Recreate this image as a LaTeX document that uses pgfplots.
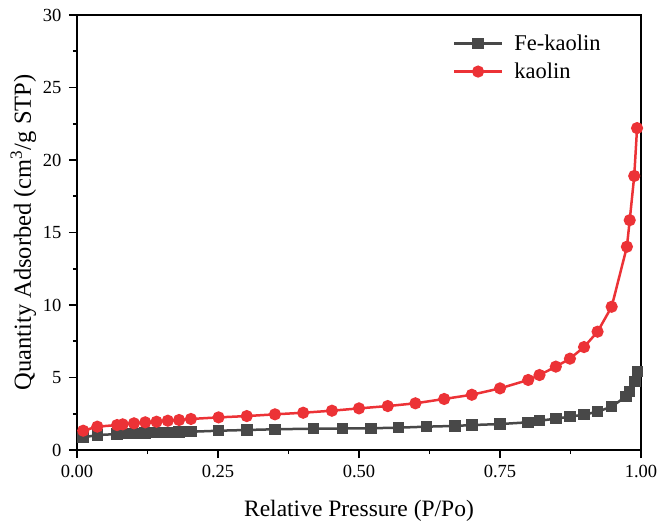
\documentclass[border=0pt]{standalone}
\usepackage{fontspec}
\setmainfont{Liberation Serif}
\usepackage{pgfplots}
\pgfplotsset{compat=1.18}
\definecolor{fegray}{RGB}{72,72,72}
\definecolor{kred}{RGB}{236,50,54}

\begin{document}
\begin{tikzpicture}
\begin{axis}[
  name=box,
  scale only axis,
  width=564pt, height=435pt,
  xmin=0, xmax=1, ymin=0, ymax=30,
  xtick={0,0.25,0.5,0.75,1},
  ytick={0,5,10,15,20,25,30},
  minor x tick num=1, minor y tick num=1,
  tick align=outside,
  xtick pos=bottom, ytick pos=left,
  major tick length=8pt, minor tick length=4pt,
  axis line style={line width=1.8pt},
  every tick/.style={line width=1.6pt, black},
  /pgf/number format/assume math mode=true,
  xticklabel style={yshift=-4pt, /pgf/number format/fixed,
    /pgf/number format/fixed zerofill, /pgf/number format/precision=2},
  yticklabel style={xshift=-4pt, /pgf/number format/fixed,
    /pgf/number format/precision=0},
  tick label style={font=\fontsize{18.5}{20}\selectfont},
  xlabel={Relative Pressure (P/Po)},
  ylabel={Quantity Adsorbed (cm\textsuperscript{3}/g STP)},
  xlabel style={font=\fontsize{23.5}{26}\selectfont, yshift=-15pt},
  ylabel style={font=\fontsize{24.5}{27}\selectfont, yshift=0pt},
  legend cell align=left,
  legend style={draw=none, fill=none, at={(0.666,0.957)}, anchor=north west,
    font=\fontsize{22.5}{24}\selectfont, row sep=9pt, column sep=10pt,
    inner sep=0pt, nodes={inner sep=1pt}},
  legend image code/.code={%
    \draw[mark repeat=2, mark phase=2, #1] plot coordinates {(0pt,0pt) (24pt,0pt) (48pt,0pt)};},
]
\addplot[fegray, line width=2.5pt, mark=square*, mark size=4.5pt, mark options={solid}] coordinates {
 (0.011,0.87) (0.036,1.03) (0.071,1.10) (0.081,1.13) (0.101,1.15) (0.121,1.17)
 (0.141,1.20) (0.161,1.22) (0.181,1.24) (0.202,1.26) (0.251,1.33) (0.301,1.38)
 (0.351,1.43) (0.419,1.47) (0.471,1.48) (0.521,1.50) (0.570,1.54) (0.620,1.61)
 (0.670,1.66) (0.700,1.72) (0.750,1.79) (0.800,1.91) (0.820,2.02) (0.849,2.16)
 (0.874,2.30) (0.899,2.44) (0.923,2.64) (0.948,2.99) (0.973,3.68) (0.980,4.02)
 (0.989,4.71) (0.994,5.40)
};
\addlegendentry{Fe-kaolin}
\addplot[kred, line width=2.5pt, mark=*, mark size=4.8pt, mark options={solid}] coordinates {
 (0.011,1.33) (0.036,1.61) (0.071,1.72) (0.081,1.77) (0.101,1.84) (0.121,1.91)
 (0.141,1.95) (0.161,2.02) (0.181,2.07) (0.202,2.14) (0.251,2.25) (0.301,2.34)
 (0.351,2.46) (0.401,2.57) (0.452,2.71) (0.500,2.87) (0.551,3.03) (0.600,3.22)
 (0.651,3.52) (0.700,3.81) (0.750,4.25) (0.800,4.83) (0.820,5.17) (0.849,5.75)
 (0.874,6.30) (0.899,7.10) (0.923,8.16) (0.948,9.88) (0.975,14.02) (0.980,15.85)
 (0.988,18.9) (0.993,22.2)
};
\addlegendentry{kaolin}
\end{axis}
\pgfresetboundingbox
\path[use as bounding box] ([xshift=-77pt,yshift=-72pt]box.south west)
  rectangle ([xshift=25pt,yshift=15pt]box.north east);
\end{tikzpicture}
\end{document}
